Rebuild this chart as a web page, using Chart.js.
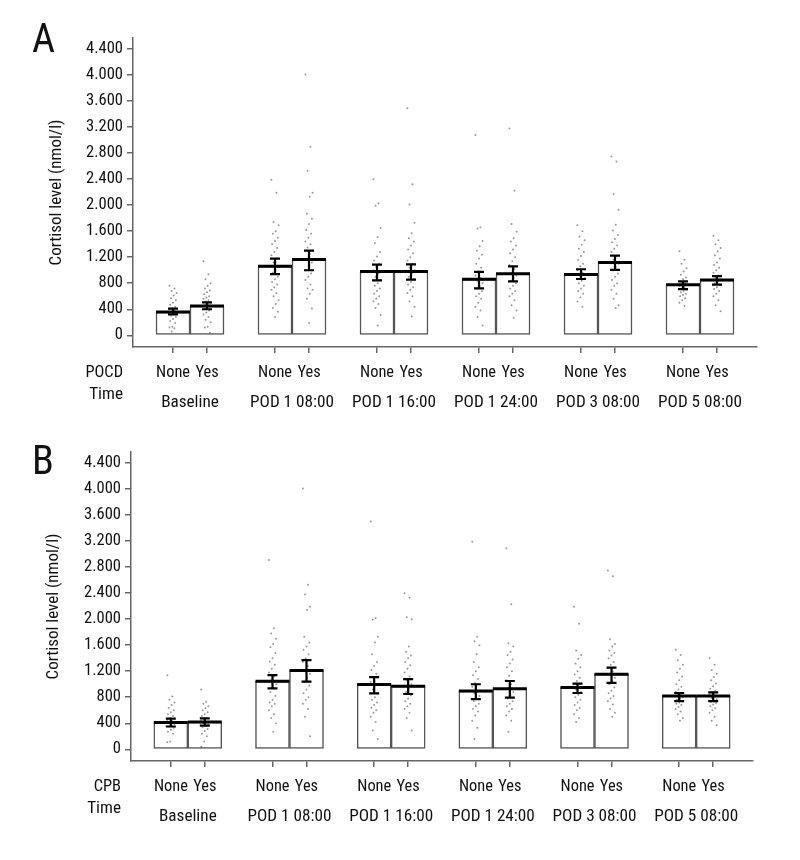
<!DOCTYPE html>
<html>
<head>
<meta charset="utf-8">
<script src="https://cdn.jsdelivr.net/npm/chart.js@4.4.1/dist/chart.umd.min.js"></script>
<style>
  body { margin: 0; background: #fff; }
  canvas { display: block; }
</style>
</head>
<body>
<canvas id="chartA" width="800" height="420"></canvas>
<canvas id="chartB" width="800" height="440"></canvas>
<script>
// categories
const times = ['Baseline', 'POD 1 08:00', 'POD 1 16:00', 'POD 1 24:00', 'POD 3 08:00', 'POD 5 08:00'];
const groups = ['None', 'Yes'];
const yTicks = [0, 400, 800, 1200, 1600, 2000, 2400, 2800, 3200, 3600, 4000, 4400];

// panel A: POCD
const aMeanNone = [357, 1060, 980, 860, 935, 775];
const aLoNone   = [320, 940, 845, 720, 865, 710];
const aHiNone   = [410, 1180, 1085, 975, 1015, 830];
const aMeanYes  = [450, 1165, 980, 945, 1120, 850];
const aLoYes    = [400, 1000, 855, 830, 1005, 780];
const aHiYes    = [505, 1300, 1090, 1060, 1225, 910];

const aPtsNone = [
  [760, 720, 680, 650, 610, 570, 540, 500, 470, 440, 420, 400, 380, 360, 340, 320, 300, 280, 250, 220, 190, 130, 120, 110, 60],
  [2390, 2190, 1740, 1690, 1600, 1560, 1500, 1450, 1400, 1340, 1280, 1230, 1180, 1120, 1060, 1000, 960, 900, 860, 820, 780, 740, 700, 650, 600, 540, 480, 420, 360, 280],
  [2400, 2030, 1990, 1650, 1510, 1420, 1280, 1210, 1150, 1100, 1050, 1000, 950, 900, 850, 800, 760, 720, 680, 640, 600, 560, 520, 480, 420, 310, 150],
  [3080, 1660, 1640, 1450, 1370, 1300, 1240, 1180, 1100, 1040, 980, 920, 880, 840, 800, 760, 720, 680, 640, 600, 560, 500, 440, 380, 280, 150],
  [1690, 1600, 1520, 1460, 1390, 1330, 1280, 1220, 1160, 1100, 1060, 1000, 960, 920, 880, 840, 800, 760, 720, 680, 640, 580, 520, 440],
  [1290, 1160, 1100, 1030, 980, 930, 890, 860, 830, 800, 780, 760, 740, 720, 700, 680, 660, 640, 620, 600, 570, 540, 500, 450]
];
const aPtsYes = [
  [1140, 940, 860, 800, 760, 720, 690, 660, 630, 600, 580, 560, 540, 520, 500, 480, 460, 440, 420, 400, 380, 350, 320, 280, 240, 200, 130, 120, 40],
  [4010, 2900, 2530, 2190, 2130, 1870, 1790, 1710, 1620, 1560, 1500, 1440, 1400, 1350, 1300, 1250, 1180, 1120, 1060, 1000, 950, 900, 850, 780, 720, 700, 640, 560, 410, 190],
  [3490, 2320, 2010, 1730, 1570, 1490, 1440, 1380, 1320, 1260, 1200, 1150, 1100, 1040, 1000, 950, 900, 860, 820, 780, 740, 700, 650, 600, 520, 440, 290],
  [3180, 2220, 1710, 1590, 1490, 1440, 1380, 1320, 1260, 1200, 1140, 1080, 1020, 960, 920, 880, 840, 800, 760, 720, 680, 640, 600, 540, 460, 380, 270],
  [2750, 2670, 2170, 1930, 1700, 1610, 1540, 1480, 1430, 1380, 1330, 1280, 1220, 1160, 1100, 1050, 1000, 950, 900, 850, 800, 760, 700, 640, 560, 460, 420],
  [1530, 1460, 1400, 1340, 1290, 1230, 1180, 1120, 1080, 1040, 1000, 960, 920, 890, 860, 830, 800, 770, 740, 710, 680, 640, 600, 540, 460, 370]
];

// panel B: CPB
const bMeanNone = [410, 1045, 995, 895, 950, 820];
const bLoNone   = [350, 935, 860, 770, 865, 740];
const bHiNone   = [470, 1140, 1110, 1000, 1010, 865];
const bMeanYes  = [420, 1210, 970, 930, 1155, 820];
const bLoYes    = [365, 1040, 850, 795, 1020, 740];
const bHiYes    = [475, 1370, 1080, 1050, 1255, 875];

const bPtsNone = [
  [1140, 810, 760, 720, 680, 640, 600, 570, 540, 510, 480, 450, 430, 410, 390, 370, 350, 330, 300, 270, 240, 120, 110],
  [2910, 1860, 1780, 1700, 1620, 1570, 1480, 1400, 1350, 1300, 1240, 1180, 1120, 1060, 1000, 940, 880, 820, 760, 720, 700, 660, 600, 540, 480, 400, 270],
  [3500, 2020, 1990, 1730, 1640, 1460, 1340, 1280, 1220, 1160, 1100, 1040, 980, 920, 860, 800, 760, 720, 680, 640, 600, 560, 500, 420, 290, 160],
  [3190, 1730, 1660, 1600, 1460, 1340, 1260, 1200, 1140, 1080, 1020, 960, 900, 860, 820, 780, 740, 700, 660, 620, 580, 520, 440, 330, 160],
  [2190, 1930, 1520, 1450, 1390, 1320, 1260, 1200, 1150, 1100, 1050, 1000, 960, 920, 880, 840, 800, 760, 720, 680, 640, 600, 540, 480, 420],
  [1530, 1450, 1370, 1300, 1240, 1180, 1120, 1060, 1000, 960, 920, 880, 860, 830, 800, 780, 760, 740, 720, 700, 680, 650, 620, 580, 540, 480, 440]
];
const bPtsYes = [
  [920, 730, 700, 660, 630, 600, 570, 540, 510, 480, 460, 440, 420, 400, 380, 360, 340, 310, 280, 240, 200, 120, 40],
  [4010, 2530, 2380, 2190, 2140, 1730, 1640, 1580, 1530, 1460, 1400, 1340, 1280, 1220, 1160, 1100, 1040, 980, 920, 860, 800, 760, 700, 620, 500, 200],
  [2400, 2330, 2030, 2000, 1580, 1500, 1440, 1400, 1340, 1290, 1240, 1180, 1120, 1060, 1000, 940, 880, 830, 780, 740, 700, 660, 620, 560, 480, 290],
  [3090, 2230, 1630, 1580, 1500, 1450, 1380, 1320, 1260, 1200, 1130, 1060, 1000, 940, 880, 830, 780, 740, 700, 660, 620, 580, 520, 440, 270],
  [2750, 2660, 1690, 1620, 1580, 1520, 1480, 1440, 1400, 1340, 1300, 1250, 1200, 1150, 1100, 1050, 1000, 950, 900, 860, 820, 780, 740, 690, 620, 560, 500],
  [1400, 1300, 1220, 1160, 1110, 1060, 1010, 970, 930, 900, 870, 840, 810, 790, 770, 750, 730, 710, 690, 660, 630, 600, 560, 500, 440, 370]
];

const FONT = "'Liberation Sans Narrow', 'Noto Sans ExtraCondensed', 'Noto Sans Condensed', 'Roboto Condensed', 'DejaVu Sans Condensed', sans-serif";
Chart.defaults.font.family = FONT;
Chart.defaults.color = '#111';

// pick font sizes so the text widths match the figure whatever narrow face is found
const meas = document.createElement('canvas').getContext('2d');
function fitSize(text, width, maxSize) {
  meas.font = '100px ' + FONT;
  return Math.min(maxSize, width / (meas.measureText(text).width / 100));
}
const SZ_G = fitSize('None', 34, 20);
const SZ_X = fitSize('POD 1 08:00', 84, 20);
const SZ_Y = fitSize('4.400', 37, 18);
const SZ_T = fitSize('Cortisol level (nmol/l)', 146, 18);

const AXIS = '#666';
const XMIN = -0.5 - 6 / 102;
const XMAX = 5.5 + 6 / 102;
const SIDE = 1 / 6;   // bar centre offset from group centre
const X_H = 36;       // height of first label row box

function dots(ptsNone, ptsYes) {
  const out = [];
  [ptsNone, ptsYes].forEach((set, g) => {
    set.forEach((vals, i) => {
      vals.forEach((v, k) => {
        const jit = (((k * 7) % 11) - 5) * 0.007;
        out.push({ x: i + (g ? SIDE : -SIDE) + jit, y: v });
      });
    });
  });
  return out;
}

const errorBars = {
  id: 'errorBars',
  afterDatasetsDraw(chart, args, opts) {
    const ctx = chart.ctx;
    const y = chart.scales.y;
    [0, 1].forEach(d => {
      const meta = chart.getDatasetMeta(d);
      const lo = opts.lo[d], hi = opts.hi[d];
      meta.data.forEach((bar, i) => {
        const half = bar.width / 2;
        ctx.save();
        ctx.strokeStyle = '#000';
        ctx.lineWidth = 3;
        ctx.beginPath();
        ctx.moveTo(bar.x - half, bar.y);
        ctx.lineTo(bar.x + half, bar.y);
        ctx.stroke();
        const yl = y.getPixelForValue(lo[i]);
        const yh = y.getPixelForValue(hi[i]);
        ctx.lineWidth = 2.2;
        ctx.beginPath();
        ctx.moveTo(bar.x, yl); ctx.lineTo(bar.x, yh);
        ctx.moveTo(bar.x - 5, yl); ctx.lineTo(bar.x + 5, yl);
        ctx.moveTo(bar.x - 5, yh); ctx.lineTo(bar.x + 5, yh);
        ctx.stroke();
        ctx.restore();
      });
    });
  },
  afterDraw(chart, args, opts) {
    const ctx = chart.ctx;
    const area = chart.chartArea;
    ctx.save();
    ctx.fillStyle = '#111';
    ctx.font = '40px ' + FONT;
    ctx.textAlign = 'left';
    ctx.textBaseline = 'alphabetic';
    ctx.fillText(opts.letter, opts.letterX, opts.letterY);
    ctx.textAlign = 'right';
    ctx.textBaseline = 'middle';
    ctx.font = SZ_G + 'px ' + FONT;
    ctx.fillText(opts.factor, area.left - 10, area.bottom + 26);
    ctx.font = SZ_X + 'px ' + FONT;
    ctx.fillText('Time', area.left - 10, area.bottom + 48);
    ctx.restore();
  }
};

function makeChart(id, cfg) {
  const barStyle = {
    backgroundColor: '#fff',
    borderColor: '#555',
    borderWidth: 1.5,
    borderSkipped: false,
    barThickness: 34,
    order: 2
  };
  return new Chart(document.getElementById(id), {
    type: 'bar',
    data: {
      datasets: [
        Object.assign({ label: 'None', data: cfg.meanNone.map((v, i) => ({ x: i, y: v })) }, barStyle),
        Object.assign({ label: 'Yes', data: cfg.meanYes.map((v, i) => ({ x: i, y: v })) }, barStyle),
        {
          type: 'scatter',
          label: 'points',
          data: dots(cfg.ptsNone, cfg.ptsYes),
          pointRadius: 1,
          pointBackgroundColor: 'rgba(30,30,30,0.45)',
          pointBorderWidth: 0,
          order: 1
        }
      ]
    },
    options: {
      responsive: false,
      animation: false,
      layout: { padding: cfg.padding },
      plugins: {
        legend: { display: false },
        tooltip: { enabled: false },
        errorBars: {
          lo: [cfg.loNone, cfg.loYes],
          hi: [cfg.hiNone, cfg.hiYes],
          letter: cfg.letter,
          letterX: 32,
          letterY: cfg.letterY,
          factor: cfg.factor
        }
      },
      scales: {
        x: {
          type: 'linear',
          min: XMIN,
          max: XMAX,
          offset: false,
          weight: 0,
          afterBuildTicks: s => {
            s.ticks = [];
            times.forEach((t, i) => groups.forEach((g, j) => s.ticks.push({ value: i + (j ? SIDE : -SIDE) })));
          },
          afterFit: s => { s.height = X_H; },
          grid: { offset: false, drawOnChartArea: false, tickLength: 6, color: AXIS, lineWidth: 1.5 },
          border: { color: AXIS, width: 1.5 },
          ticks: {
            autoSkip: false, maxRotation: 0, minRotation: 0,
            padding: 20 - 0.6 * SZ_G,
            font: { size: SZ_G },
            callback: (v, idx) => groups[idx % 2]
          }
        },
        x2: {
          type: 'linear',
          position: 'bottom',
          min: XMIN,
          max: XMAX,
          offset: false,
          weight: 1,
          afterBuildTicks: s => { s.ticks = times.map((t, i) => ({ value: i })); },
          afterFit: s => { s.height = 73 - X_H; },
          grid: { display: false, offset: false },
          border: { display: false },
          ticks: {
            autoSkip: false, maxRotation: 0, minRotation: 0,
            padding: Math.max(0, 47.7 - X_H - 0.6 * SZ_X),
            font: { size: SZ_X },
            callback: (v, idx) => times[idx]
          }
        },
        y: {
          min: -180,
          max: 4570,
          afterBuildTicks: s => { s.ticks = yTicks.map(v => ({ value: v })); },
          afterFit: s => { s.width = cfg.yWidth; },
          grid: { drawOnChartArea: false, tickLength: 6, color: AXIS, lineWidth: 1.5 },
          border: { color: AXIS, width: 1.5 },
          ticks: {
            padding: 4,
            font: { size: SZ_Y },
            callback: v => String(v).replace(/\B(?=(\d{3})+(?!\d))/g, '.')
          },
          title: {
            display: true,
            text: 'Cortisol level (nmol/l)',
            font: { size: SZ_T },
            padding: { top: cfg.titleX - 0.6 * SZ_T, bottom: 0 }
          }
        }
      }
    },
    plugins: [errorBars]
  });
}

makeChart('chartA', {
  meanNone: aMeanNone, loNone: aLoNone, hiNone: aHiNone,
  meanYes: aMeanYes, loYes: aLoYes, hiYes: aHiYes,
  ptsNone: aPtsNone, ptsYes: aPtsYes,
  padding: { top: 38, left: 0, right: 43, bottom: 0 },
  yWidth: 133, titleX: 57,
  letter: 'A', letterY: 52, factor: 'POCD'
});

makeChart('chartB', {
  meanNone: bMeanNone, loNone: bLoNone, hiNone: bHiNone,
  meanYes: bMeanYes, loYes: bLoYes, hiYes: bHiYes,
  ptsNone: bPtsNone, ptsYes: bPtsYes,
  padding: { top: 32, left: 0, right: 47, bottom: 26 },
  yWidth: 131, titleX: 54,
  letter: 'B', letterY: 54, factor: 'CPB'
});
</script>
</body>
</html>
